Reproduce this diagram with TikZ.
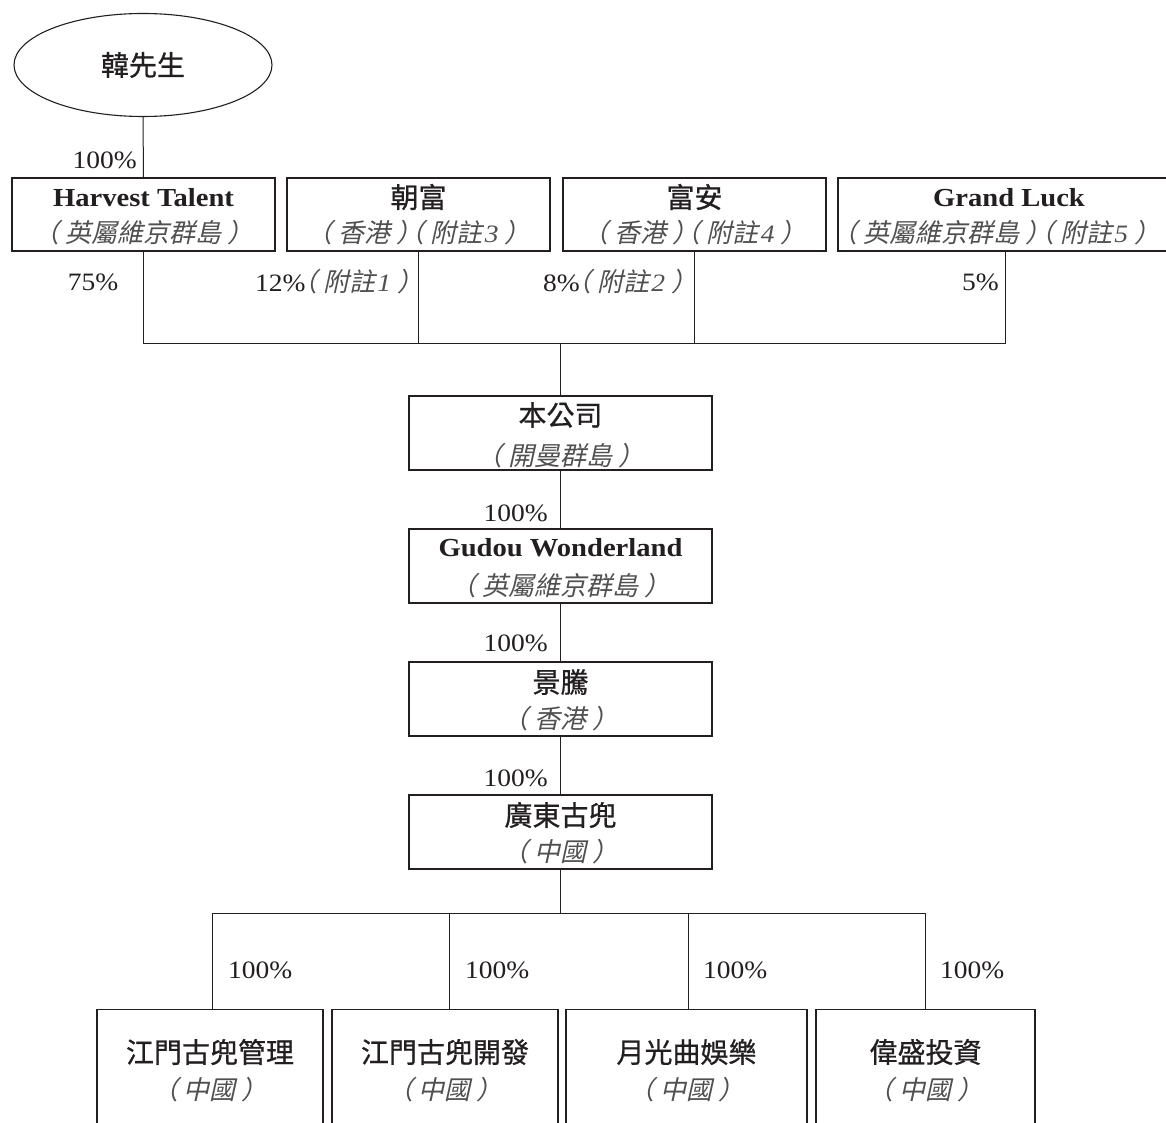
\documentclass[tikz,border=0pt]{standalone}
\usepackage{fontspec}
\setmainfont{Liberation Serif}[FakeStretch=1.1]
\newfontfamily\cjk{Noto Sans CJK TC}[FakeBold=0.8]
\newfontfamily\cjksl{Noto Sans CJK TC}[FakeSlant=0.22]
\usetikzlibrary{shapes.geometric}
\definecolor{ink}{HTML}{231F20}
\definecolor{loccol}{HTML}{505050}
\newcommand{\nm}[1]{{\cjk\fontsize{28}{28}\selectfont #1}}
\newcommand{\lc}[1]{{\color{loccol}\cjksl\fontsize{26}{26}\selectfont #1}}
\newcommand{\en}[1]{{\bfseries\fontsize{26}{26}\selectfont #1}}
\newcommand{\numi}[1]{{\rmfamily\itshape\fontsize{25}{25}\selectfont\hspace{2pt}#1}}
\newcommand{\pc}[1]{{\fontsize{25}{25}\selectfont #1}}
\newcommand{\lpar}{\hspace{-0.55em}（\hspace{6pt}}
\newcommand{\rpar}{\hspace{6pt}）\hspace{-0.55em}}
\newcommand{\rlpar}{\hspace{6pt}）\hspace{-0.9em}（\hspace{6pt}}
\begin{document}
\begin{tikzpicture}[x=1pt,y=-1pt,
  box/.style={draw=ink, rectangle, inner sep=0pt, line width=1.1pt},
  txt/.style={inner sep=0pt, text=ink},
  lnk/.style={draw=ink, line width=1pt}]
\useasboundingbox (0,0) rectangle (1166,1123);
\clip (0,0) rectangle (1166,1123);
\fill[white] (0,0) rectangle (1166,1123);

% owner
\node[ellipse, draw=ink, line width=1.1pt, minimum width=258pt, minimum height=103pt, inner sep=0pt] (mh) at (143,65) {};
\node[txt] (mh-n) at (143,65) {\nm{韓先生}};

% top row boxes
\node[box, minimum width=263pt, minimum height=73pt] (ht) at (143.5,214.5) {};
\node[txt] (ht-n) at (143.5,198) {\en{Harvest Talent}};
\node[txt] (ht-l) at (143.5,233) {\lc{\lpar 英屬維京群島\rpar}};

\node[box, minimum width=263pt, minimum height=73pt] (cf) at (418.5,214.5) {};
\node[txt] (cf-n) at (418.5,197) {\nm{朝富}};
\node[txt] (cf-l) at (418.5,233) {\lc{\lpar 香港\rlpar 附註\numi{3}\rpar}};

\node[box, minimum width=263pt, minimum height=73pt] (fa) at (694.5,214.5) {};
\node[txt] (fa-n) at (694.5,197) {\nm{富安}};
\node[txt] (fa-l) at (694.5,233) {\lc{\lpar 香港\rlpar 附註\numi{4}\rpar}};

\node[box, minimum width=334pt, minimum height=73pt] (gl) at (1005,214.5) {};
\node[txt] (gl-n) at (1009,198) {\en{Grand Luck}};
\node[txt] (gl-l) at (996,233) {\lc{\lpar 英屬維京群島\rlpar 附註\numi{5}\rpar}};

% middle chain
\node[box, minimum width=303pt, minimum height=74pt] (co) at (560.5,433) {};
\node[txt] (co-n) at (560.5,415) {\nm{本公司}};
\node[txt] (co-l) at (560.5,456) {\lc{\lpar 開曼群島\rpar}};

\node[box, minimum width=303pt, minimum height=74pt] (gw) at (560.5,566) {};
\node[txt] (gw-n) at (560.5,548) {\en{Gudou Wonderland}};
\node[txt] (gw-l) at (560.5,586) {\lc{\lpar 英屬維京群島\rpar}};

\node[box, minimum width=303pt, minimum height=74pt] (jt) at (560.5,699) {};
\node[txt] (jt-n) at (560.5,682) {\nm{景騰}};
\node[txt] (jt-l) at (560.5,719) {\lc{\lpar 香港\rpar}};

\node[box, minimum width=303pt, minimum height=74pt] (gd) at (560.5,832) {};
\node[txt] (gd-n) at (560.5,815) {\nm{廣東古兜}};
\node[txt] (gd-l) at (560.5,852) {\lc{\lpar 中國\rpar}};

% bottom row boxes (cut off at bottom)
\node[box, minimum width=226pt, minimum height=160pt, anchor=north] (s1) at (210,1009) {};
\node[txt] (s1-n) at (210,1052) {\nm{江門古兜管理}};
\node[txt] (s1-l) at (210,1090) {\lc{\lpar 中國\rpar}};

\node[box, minimum width=226pt, minimum height=160pt, anchor=north] (s2) at (445,1009) {};
\node[txt] (s2-n) at (445,1052) {\nm{江門古兜開發}};
\node[txt] (s2-l) at (445,1090) {\lc{\lpar 中國\rpar}};

\node[box, minimum width=241pt, minimum height=160pt, anchor=north] (s3) at (686.5,1009) {};
\node[txt] (s3-n) at (686.5,1052) {\nm{月光曲娛樂}};
\node[txt] (s3-l) at (686.5,1090) {\lc{\lpar 中國\rpar}};

\node[box, minimum width=219pt, minimum height=160pt, anchor=north] (s4) at (925.5,1009) {};
\node[txt] (s4-n) at (925.5,1052) {\nm{偉盛投資}};
\node[txt] (s4-l) at (925.5,1090) {\lc{\lpar 中國\rpar}};

% connectors
\draw[lnk] (mh.south) -- (ht.north);
\node[txt, anchor=east] (p0) at (137,160) {\pc{100\%}};

\coordinate (bar) at (560.5,343);
\draw[lnk] (ht.south) |- (bar);
\draw[lnk] (gl.south) |- (bar);
\draw[lnk] (cf.south) -- (cf.south |- bar);
\draw[lnk] (fa.south) -- (fa.south |- bar);
\draw[lnk] (bar) -- (co.north);

\node[txt] (p1) at (93,282) {\pc{75\%}};
\node[txt, anchor=east] (p2) at (409,282) {\pc{12\%}\lc{\lpar 附註\numi{1}\rpar}};
\node[txt, anchor=east] (p3) at (683,282) {\pc{8\%}\lc{\lpar 附註\numi{2}\rpar}};
\node[txt, anchor=east] (p4) at (999,282) {\pc{5\%}};

\draw[lnk] (co.south) -- (gw.north);
\node[txt, anchor=east] (p5) at (548,513) {\pc{100\%}};
\draw[lnk] (gw.south) -- (jt.north);
\node[txt, anchor=east] (p6) at (548,643) {\pc{100\%}};
\draw[lnk] (jt.south) -- (gd.north);
\node[txt, anchor=east] (p7) at (548,778) {\pc{100\%}};

\coordinate (b0) at (560.5,913);
\coordinate (b1) at (212,913);
\coordinate (b2) at (449,913);
\coordinate (b3) at (688,913);
\coordinate (b4) at (925,913);
\draw[lnk] (gd.south) -- (b0);
\draw[lnk] (b1) -- (b4);
\draw[lnk] (b1) -- (b1 |- s1.north);
\draw[lnk] (b2) -- (b2 |- s2.north);
\draw[lnk] (b3) -- (b3 |- s3.north);
\draw[lnk] (b4) -- (b4 |- s4.north);

\node[txt, anchor=west] (q1) at (228,970) {\pc{100\%}};
\node[txt, anchor=west] (q2) at (465,970) {\pc{100\%}};
\node[txt, anchor=west] (q3) at (703,970) {\pc{100\%}};
\node[txt, anchor=west] (q4) at (940,970) {\pc{100\%}};
\end{tikzpicture}
\end{document}
